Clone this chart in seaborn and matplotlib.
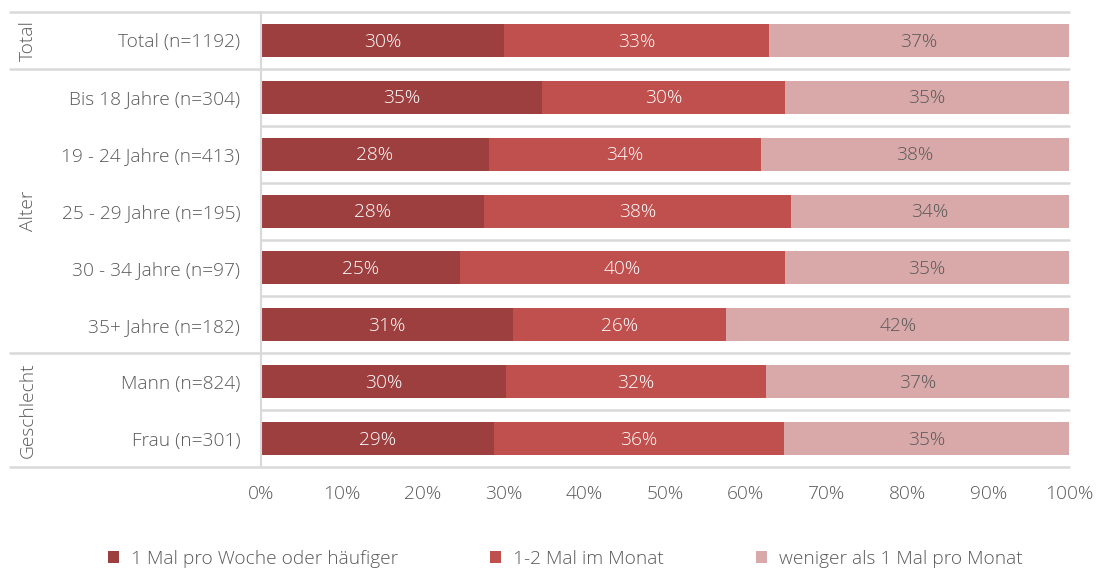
import matplotlib
matplotlib.use("Agg")
import matplotlib.pyplot as plt
import seaborn as sns
import numpy as np
import pandas as pd
from matplotlib.patches import Patch

categories = ["Total (n=1192)", "Bis 18 Jahre (n=304)", "19 - 24 Jahre (n=413)",
              "25 - 29 Jahre (n=195)", "30 - 34 Jahre (n=97)", "35+ Jahre (n=182)",
              "Mann (n=824)", "Frau (n=301)"]
weekly = [30.1, 34.8, 28.2, 27.6, 24.6, 31.2, 30.3, 28.8]
monthly = [32.8, 30.0, 33.7, 38.0, 40.2, 26.4, 32.2, 35.9]
less = [37.1, 35.2, 38.1, 34.4, 35.2, 42.4, 37.5, 35.3]
weekly_lbl = ["30%", "35%", "28%", "28%", "25%", "31%", "30%", "29%"]
monthly_lbl = ["33%", "30%", "34%", "38%", "40%", "26%", "32%", "36%"]
less_lbl = ["37%", "35%", "38%", "34%", "35%", "42%", "37%", "35%"]
series_names = ["1 Mal pro Woche oder häufiger", "1-2 Mal im Monat", "weniger als 1 Mal pro Monat"]
groups = [("Total", 0, 0), ("Alter", 1, 5), ("Geschlecht", 6, 7)]
xticks = [0, 10, 20, 30, 40, 50, 60, 70, 80, 90, 100]

colors = ["#9E3F3F", "#C0504D", "#D9A9A9"]
txt_col = "#595959"
grid_col = "#D9D9D9"
FS = 13.8

sns.set_style("white")
plt.rcParams["font.family"] = ["Open Sans", "DejaVu Sans"]

df = pd.DataFrame({"cat": categories, "w": weekly, "m": monthly, "l": less})
df["c1"] = df["w"]
df["c2"] = df["w"] + df["m"]
df["c3"] = df["c2"] + df["l"]

fig = plt.figure(figsize=(10.99, 5.69), dpi=100)
L, R, T, B = 261 / 1099, 1069 / 1099, 1 - 12 / 569, 1 - 467 / 569
ax = fig.add_axes([L, B, R - L, T - B])

for col, c in zip(["c3", "c2", "c1"], colors[::-1]):
    sns.barplot(data=df, x=col, y="cat", orient="h", color=c, width=0.58,
                saturation=1, ax=ax, edgecolor="none")

n = len(categories)
ax.set_xlim(0, 100)
ax.set_ylim(n - 0.5, -0.5)
ax.set_xlabel("")
ax.set_ylabel("")
ax.set_xticks(xticks)
ax.set_xticklabels([f"{t}%" for t in xticks], fontsize=FS, color=txt_col, fontweight="light")
ax.set_yticks(range(n))
ax.set_yticklabels(categories, fontsize=FS, color=txt_col, fontweight="light")
ax.tick_params(axis="both", length=0)
ax.tick_params(axis="y", pad=15)
ax.tick_params(axis="x", pad=13)
for s in ["top", "right", "bottom"]:
    ax.spines[s].set_visible(False)
ax.spines["left"].set_color(grid_col)
ax.spines["left"].set_linewidth(1.5)

# row separators
group_bounds = {-0.5, 0.5, 5.5, 7.5}
ext = -251 / 808
for b in np.arange(-0.5, n, 1.0):
    x0 = ext if b in group_bounds else 0
    ax.plot([x0, 1.0], [b, b], color=grid_col, lw=1.8,
            transform=ax.get_yaxis_transform(), clip_on=False, zorder=0)

# value labels
for i in range(n):
    vals = [weekly[i], monthly[i], less[i]]
    lbls = [weekly_lbl[i], monthly_lbl[i], less_lbl[i]]
    start = 0
    for j, (v, lb) in enumerate(zip(vals, lbls)):
        ax.text(start + v / 2, i + 0.02, lb, ha="center", va="center", fontsize=FS,
                fontweight="light", color="white" if j < 2 else txt_col)
        start += v

# group labels
for name, a, bb in groups:
    ax.text(-233 / 808, (a + bb) / 2, name, rotation=90, ha="center", va="center",
            fontsize=FS, fontweight="light", color=txt_col,
            transform=ax.get_yaxis_transform())

# legend
handles = [Patch(facecolor=c, edgecolor="none") for c in colors]
fig.legend(handles, series_names, loc="center", bbox_to_anchor=(0.514, 1 - 559 / 569),
           ncol=3, frameon=False, handlelength=0.6, handleheight=0.6,
           columnspacing=4.8, handletextpad=0.6, labelcolor=txt_col,
           prop={"weight": "light", "size": FS})

fig.savefig("out.png", dpi=100)
